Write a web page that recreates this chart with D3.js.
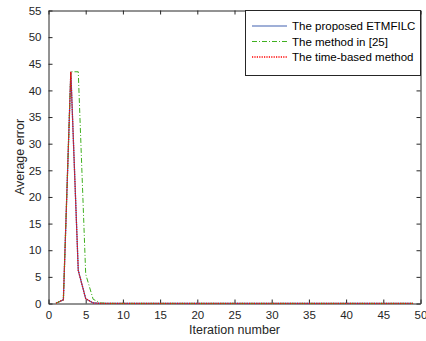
<!DOCTYPE html>
<html><head><meta charset="utf-8">
<script src="https://cdn.jsdelivr.net/npm/d3@7"></script>
<style>body{margin:0;background:#fff;}text{font-family:"Liberation Sans",Arial,sans-serif;}</style>
</head><body><svg id="c" width="426" height="341"></svg>
<script>
const iterations = d3.range(1, 50);
const proposedHead = [0.05, 0.7, 43.5, 6.2, 0.9, 0.1];
const method25Head = [0.05, 0.7, 43.5, 43.5, 5.5, 0.8, 0.1];
const timeBasedHead = [0.05, 0.7, 43.5, 6.2, 0.9, 0.1];
const tailValue = 0.02;
const proposed = iterations.map((d,i)=> i<proposedHead.length?proposedHead[i]:tailValue);
const method25 = iterations.map((d,i)=> i<method25Head.length?method25Head[i]:tailValue);
const timeBased = iterations.map((d,i)=> i<timeBasedHead.length?timeBasedHead[i]:tailValue);
const xTicks = d3.range(0, 51, 5);
const yTicks = d3.range(0, 56, 5);
const seriesNames = ["The proposed ETMFILC","The method in [25]","The time-based method"];

const svg = d3.select("#c");
const L=48.5,R=420.5,T=10.5,B=303.5;
const x = d3.scaleLinear().domain([0,50]).range([L,R]);
const y = d3.scaleLinear().domain([0,55]).range([B,T]);
const ax="#262626";
const tl=4;

// box axes
svg.append("g").attr("transform",`translate(0,${B})`).call(d3.axisBottom(x).tickValues(xTicks).tickSizeInner(-tl).tickSizeOuter(0).tickPadding(7))
  .call(g=>{g.select(".domain").attr("stroke",ax);g.selectAll("line").attr("stroke",ax);g.selectAll("text").attr("fill",ax).attr("font-size",11.5).attr("font-family","Liberation Sans, Arial");});
svg.append("g").attr("transform",`translate(${L},0)`).call(d3.axisLeft(y).tickValues(yTicks).tickSizeInner(-tl).tickSizeOuter(0).tickPadding(7))
  .call(g=>{g.select(".domain").attr("stroke",ax);g.selectAll("line").attr("stroke",ax);g.selectAll("text").attr("fill",ax).attr("font-size",11.5).attr("font-family","Liberation Sans, Arial");});
svg.append("g").attr("transform",`translate(0,${T})`).call(d3.axisTop(x).tickValues(xTicks).tickSizeInner(-tl).tickSizeOuter(0).tickFormat(""))
  .call(g=>{g.select(".domain").attr("stroke",ax);g.selectAll("line").attr("stroke",ax);});
svg.append("g").attr("transform",`translate(${R},0)`).call(d3.axisRight(y).tickValues(yTicks).tickSizeInner(-tl).tickSizeOuter(0).tickFormat(""))
  .call(g=>{g.select(".domain").attr("stroke",ax);g.selectAll("line").attr("stroke",ax);});

const line = d3.line().x((d,i)=>x(iterations[i])).y(d=>y(d));
svg.append("path").datum(proposed).attr("d",line).attr("fill","none").attr("stroke","#4060b0").attr("stroke-width",1.2);
svg.append("path").datum(method25).attr("d",line).attr("fill","none").attr("stroke","#40b020").attr("stroke-width",1).attr("stroke-dasharray","5,2,1,2");
svg.append("path").datum(timeBased).attr("d",line).attr("fill","none").attr("stroke","#ff0000").attr("stroke-width",1.3).attr("stroke-dasharray","1.2,1.2");

// labels
svg.append("text").attr("x",(L+R)/2).attr("y",334).attr("text-anchor","middle").attr("font-size",12.5).attr("fill",ax).text("Iteration number");
svg.append("text").attr("transform",`translate(24,${(T+B)/2}) rotate(-90)`).attr("text-anchor","middle").attr("font-size",12.5).attr("fill",ax).text("Average error");

// legend
const lg = svg.append("g");
lg.append("rect").attr("x",245.5).attr("y",T).attr("width",R-245.5).attr("height",65).attr("fill","#fff").attr("stroke",ax).attr("stroke-width",1);
const styles=[{c:"#4060b0",d:null,w:1.2},{c:"#40b020",d:"5,2,1,2",w:1},{c:"#ff0000",d:"1.2,1.2",w:1.3}];
seriesNames.forEach((n,i)=>{
  const yy=26+i*15.5;
  lg.append("line").attr("x1",252).attr("x2",287).attr("y1",yy).attr("y2",yy).attr("stroke",styles[i].c).attr("stroke-width",styles[i].w).attr("stroke-dasharray",styles[i].d);
  lg.append("text").attr("x",292).attr("y",yy+4).attr("font-size",11.5).attr("fill","#000").text(n);
});
</script></body></html>
